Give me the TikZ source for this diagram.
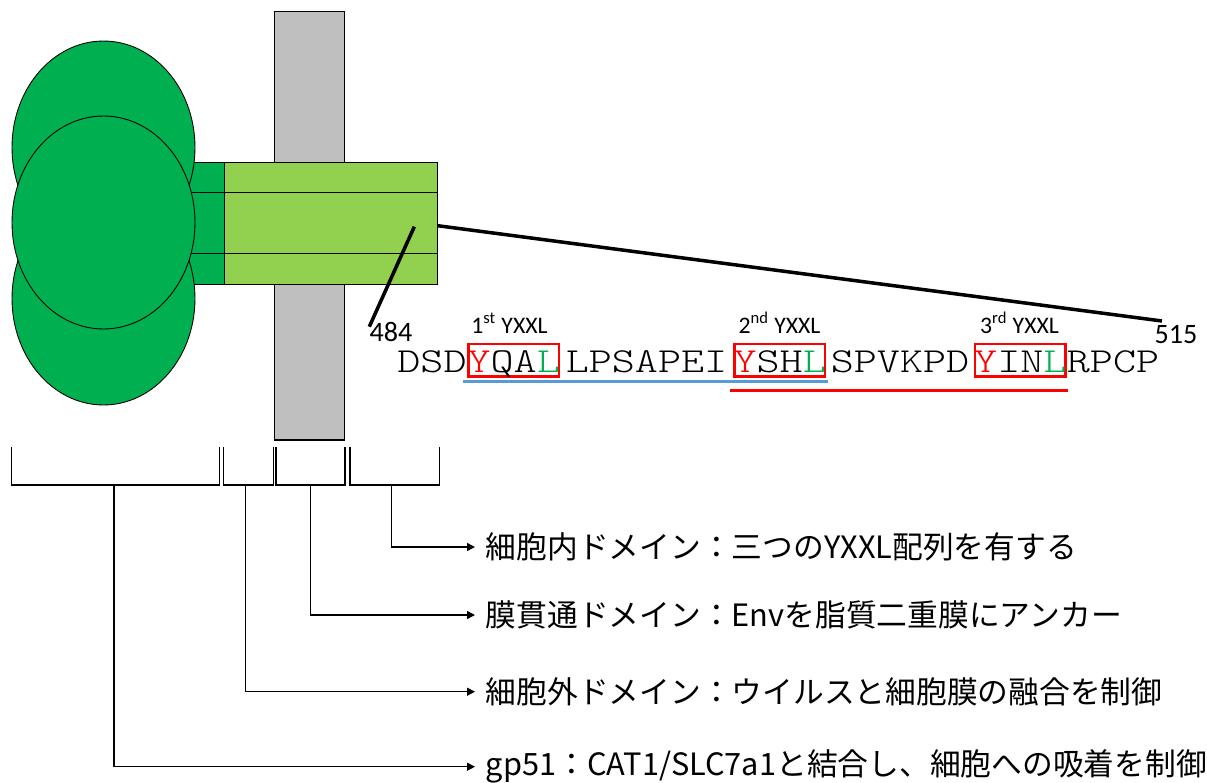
\documentclass[tikz,border=0pt]{standalone}
\usepackage{fontspec}
\setmainfont{Carlito}
\newfontfamily\jp{Noto Sans CJK JP}
\newfontfamily\seqfont{lmmonolt10-regular}[Extension=.otf, FakeStretch=1.25]
\usetikzlibrary{arrows.meta}

\definecolor{envgreen}{HTML}{00B050}
\definecolor{ctgreen}{HTML}{92D050}
\definecolor{memgray}{HTML}{BFBFBF}
\definecolor{motifred}{HTML}{FF0000}
\definecolor{ulblue}{HTML}{5B9BD5}

\tikzset{
  aa/.style={font=\seqfont\fontsize{20}{20}\selectfont, inner sep=0pt, anchor=base},
  motif/.style={aa, draw=motifred, line width=1.4pt, inner xsep=-0.6pt, inner ysep=0pt,
    text height=0.56cm, text depth=0.086cm},
  motiflbl/.style={font=\fontsize{13.5}{13.5}\selectfont, inner sep=0pt, anchor=base},
  resnum/.style={font=\fontsize{16}{16}\selectfont, inner sep=0pt, anchor=base},
  domlbl/.style={font=\jp\fontsize{17.5}{17.5}\selectfont, anchor=west, inner sep=0pt, inner xsep=6pt},
  bracket/.style={line width=0.8pt},
  callout/.style={line width=0.8pt, -{Triangle[length=4.5pt,width=4.5pt]}},
}

\begin{document}
\begin{tikzpicture}[x=0.02cm, y=-0.02cm]
    \useasboundingbox (0,0) rectangle (1207,782);

    % membrane
    \draw[fill=memgray, line width=0.6pt] (274.3,11.3) rectangle (344.7,440);

    % gp51 heads and stalk
    \draw[fill=envgreen, line width=0.5pt] (185,162) rectangle (224.3,284);
    \draw[line width=0.5pt] (185,192.7) -- (224.3,192.7);
    \draw[line width=0.5pt] (185,253.3) -- (224.3,253.3);
    \draw[fill=envgreen, line width=0.5pt] (103.5,147.5) ellipse [x radius=1.83cm, y radius=2.13cm];
    \draw[fill=envgreen, line width=0.5pt] (103.5,298.5) ellipse [x radius=1.83cm, y radius=2.13cm];
    \draw[fill=envgreen, line width=0.5pt] (103.5,222.5) ellipse [x radius=1.83cm, y radius=2.13cm];

    % gp30
    \draw[fill=ctgreen, line width=0.5pt] (224.3,162) rectangle (437.7,284);
    \draw[line width=0.5pt] (224.3,192.7) -- (437.7,192.7);
    \draw[line width=0.5pt] (224.3,253.3) -- (437.7,253.3);

    % zoom onto the tail
    \coordinate (tailA) at (437.7,225.7);
    \coordinate (tailB) at (414.3,226.7);
    \coordinate (c515) at (1162,321);
    \coordinate (c484) at (369.3,326.7);
    \draw[line width=2pt] (tailA) -- (c515);
    \draw[line width=2pt] (tailB) -- (c484);
    \node[resnum] (n484) at (391,341) {484};
    \node[resnum] (n515) at (1176,343) {515};

    % cytoplasmic tail sequence
    \node[aa] (s1) at (432,372) {DSD};
    \node[motif] (m1) at (513.7,372) {\textcolor{motifred}{Y}QA\textcolor{envgreen}{L}};
    \node[aa] (s2) at (646.5,372) {LPSAPEI};
    \node[motif] (m2) at (779.7,372) {\textcolor{motifred}{Y}SH\textcolor{envgreen}{L}};
    \node[aa] (s3) at (900,372) {SPVKPD};
    \node[motif] (m3) at (1020.3,372) {\textcolor{motifred}{Y}IN\textcolor{envgreen}{L}};
    \node[aa] (s4) at (1113,372) {RPCP};

    \node[motiflbl] (l1) at (509.5,333) {1\textsuperscript{st} YXXL};
    \node[motiflbl] (l2) at (779.5,333) {2\textsuperscript{nd} YXXL};
    \node[motiflbl] (l3) at (1019.5,333) {3\textsuperscript{rd} YXXL};

    \draw[ulblue, line width=1.6pt] (462.7,381.7) -- (828.3,381.7);
    \draw[motifred, line width=1.7pt] (730,390) -- (1068.3,390);

    % domain brackets
    \draw[bracket] (11.5,447) |- (219.5,485) -- (219.5,447);
    \draw[bracket] (223.4,447) |- (273.2,485) -- (273.2,447);
    \draw[bracket] (275.9,447) |- (344.8,485) -- (344.8,447);
    \draw[bracket] (349.8,447) |- (439.5,485) -- (439.5,447);
    \coordinate (b1) at (114,485);
    \coordinate (b2) at (245.6,485);
    \coordinate (b3) at (310.3,485);
    \coordinate (b4) at (391.6,485);

    \node[domlbl] (cyto) at (475,547) {細胞内ドメイン：三つのYXXL配列を有する};
    \node[domlbl] (tm) at (475,615) {膜貫通ドメイン：Envを脂質二重膜にアンカー};
    \node[domlbl] (ecto) at (475,691.7) {細胞外ドメイン：ウイルスと細胞膜の融合を制御};
    \node[domlbl] (su) at (475,766.7) {gp51：CAT1/SLC7a1と結合し、細胞への吸着を制御};

    \draw[callout] (b4) |- (cyto.west);
    \draw[callout] (b3) |- (tm.west);
    \draw[callout] (b2) |- (ecto.west);
    \draw[callout] (b1) |- (su.west);
\end{tikzpicture}
\end{document}
